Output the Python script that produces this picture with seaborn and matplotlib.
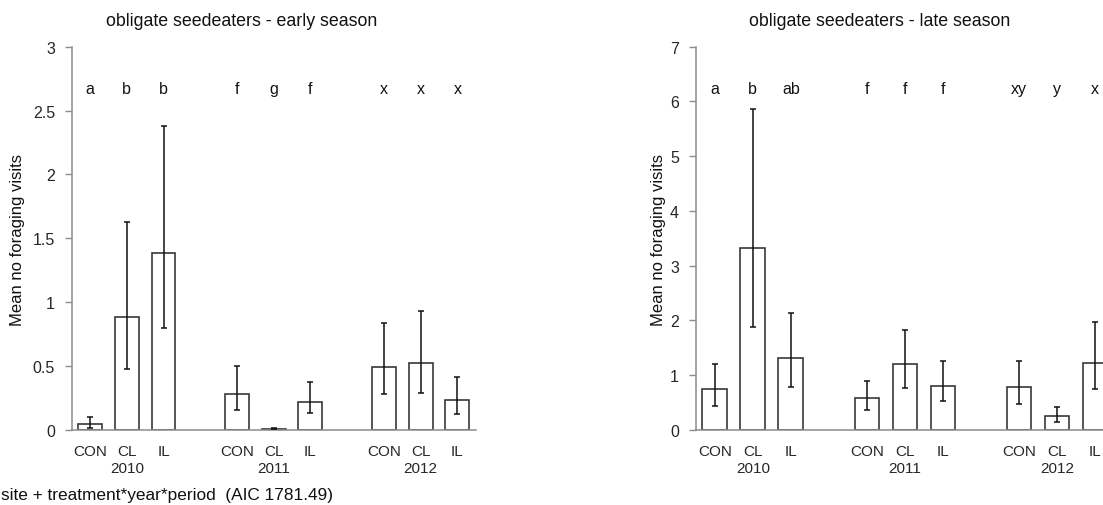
import matplotlib
matplotlib.use("Agg")
import matplotlib.pyplot as plt
import matplotlib.transforms as mtransforms
from matplotlib.ticker import FuncFormatter
import numpy as np
import pandas as pd
import seaborn as sns

# Groups on the x axis
years = ["2010", "2011", "2012"]
treatments = ["CON", "CL", "IL"]

# Early season: mean visits with lower / upper interval limits
early_mean = [0.045, 0.888, 1.385, 0.282, 0.010, 0.222, 0.491, 0.527, 0.235]
early_lower = [0.016, 0.478, 0.797, 0.157, 0.005, 0.131, 0.282, 0.288, 0.128]
early_upper = [0.104, 1.63, 2.38, 0.50, 0.018, 0.378, 0.841, 0.935, 0.418]
early_letters = ["a", "b", "b", "f", "g", "f", "x", "x", "x"]

# Late season
late_mean = [0.74, 3.33, 1.31, 0.578, 1.199, 0.81, 0.78, 0.256, 1.223]
late_lower = [0.438, 1.885, 0.78, 0.37, 0.766, 0.524, 0.474, 0.146, 0.754]
late_upper = [1.21, 5.87, 2.14, 0.894, 1.82, 1.254, 1.254, 0.425, 1.97]
late_letters = ["a", "b", "ab", "f", "f", "f", "xy", "y", "x"]

rows = []
for yi, yr in enumerate(years):
    for ti, tr in enumerate(treatments):
        rows.append({"year": yr, "treatment": tr, "pos": yi * 4 + ti})
df = pd.DataFrame(rows)
df["early_mean"] = early_mean
df["early_lower"] = early_lower
df["early_upper"] = early_upper
df["early_letter"] = early_letters
df["late_mean"] = late_mean
df["late_lower"] = late_lower
df["late_upper"] = late_upper
df["late_letter"] = late_letters

sns.set_theme(style="white")
plt.rcParams["font.family"] = ["Liberation Sans", "DejaVu Sans"]
plt.rcParams["text.color"] = "#111111"

W, H = 1103, 506
fig = plt.figure(figsize=(W / 100, H / 100), dpi=100)
fig.patch.set_facecolor("white")

SPINE = "0.55"
EDGE = "0.22"


def tick_labels(frame):
    labels = []
    for _, r in frame.iterrows():
        if r["treatment"] == "CL":
            labels.append(f"CL\n{r['year']}")
        else:
            labels.append(r["treatment"])
    return labels


def panel(ax, prefix, ymax, yticks):
    sns.barplot(data=df, x="pos", y=f"{prefix}_mean", native_scale=True,
                width=0.65, color="white", saturation=1, edgecolor=EDGE,
                linewidth=1.2, errorbar=None, ax=ax)
    m = df[f"{prefix}_mean"].to_numpy()
    lo = df[f"{prefix}_lower"].to_numpy()
    hi = df[f"{prefix}_upper"].to_numpy()
    ax.errorbar(df["pos"], m, yerr=[m - lo, hi - m], fmt="none",
                ecolor="#111111", elinewidth=1.1, capsize=2.2,
                capthick=1.1, zorder=4)
    ax.set_xlim(-0.5, 10.5)
    ax.set_ylim(0, ymax)
    ax.set_yticks(yticks)
    ax.yaxis.set_major_formatter(FuncFormatter(lambda v, p: f"{v:g}"))
    ax.set_xticks(df["pos"])
    ax.set_xticklabels(tick_labels(df), fontsize=11, linespacing=1.25)
    ax.tick_params(axis="x", length=0, pad=10, labelsize=11)
    ax.tick_params(axis="y", left=True, length=5, width=1, color=SPINE,
                   pad=7, labelsize=11.5)
    ax.set_xlabel("")
    ax.set_ylabel("")
    for side in ("top", "right"):
        ax.spines[side].set_visible(False)
    for side in ("left", "bottom"):
        ax.spines[side].set_color(SPINE)
        ax.spines[side].set_linewidth(1.1)
    trans = mtransforms.blended_transform_factory(ax.transData, ax.transAxes)
    for p, letter in zip(df["pos"], df[f"{prefix}_letter"]):
        ax.text(p, 0.892, letter, transform=trans, ha="center", va="center",
                fontsize=11.5)
    ax.set_facecolor("white")


ax1 = fig.add_axes([71.7 / W, (H - 431) / H, 404 / W, 383.3 / H])
panel(ax1, "early", 3, [0, 0.5, 1, 1.5, 2, 2.5, 3])

ax2 = fig.add_axes([695.7 / W, (H - 431) / H, 418.4 / W, 383.3 / H])
panel(ax2, "late", 7, list(range(0, 8)))

fig.text(242 / W, (H - 22) / H, "obligate seedeaters - early season",
         ha="center", va="center", fontsize=12.8)
fig.text(880 / W, (H - 22) / H, "obligate seedeaters - late season",
         ha="center", va="center", fontsize=12.8)

fig.text(18 / W, (H - 240) / H, "Mean no foraging visits", rotation=90,
         ha="center", va="center", fontsize=12)
fig.text(659 / W, (H - 240) / H, "Mean no foraging visits", rotation=90,
         ha="center", va="center", fontsize=12)

fig.text(1 / W, (H - 496) / H, "site + treatment*year*period  (AIC 1781.49)",
         ha="left", va="center", fontsize=12.4)

fig.savefig("out.png", dpi=100, facecolor="white")
